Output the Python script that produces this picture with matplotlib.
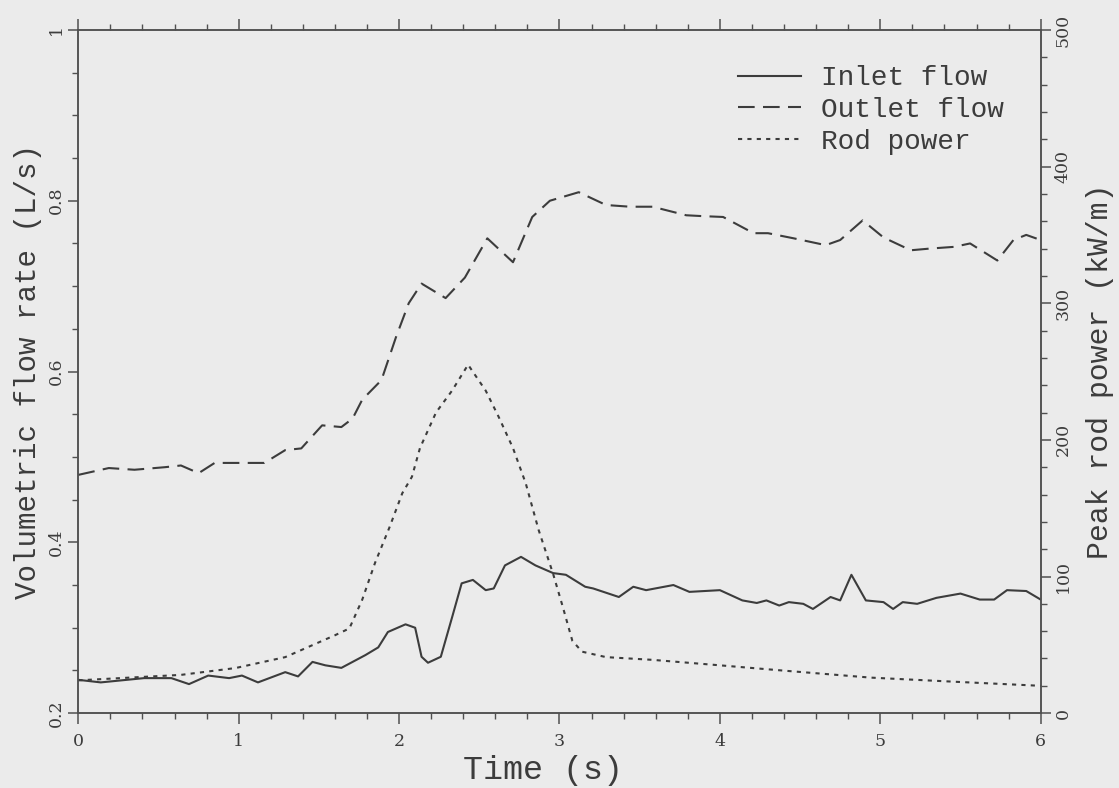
import numpy as np
import matplotlib
matplotlib.use('Agg')
import matplotlib.pyplot as plt
from matplotlib.ticker import MultipleLocator

# ── Data ──────────────────────────────────────────────────────
t_out = [0, 0.19, 0.35, 0.54, 0.64, 0.75, 0.85, 0.98, 1.16, 1.29, 1.39, 1.52,
         1.64, 1.71, 1.77, 1.89, 1.98, 2.06, 2.14, 2.29, 2.41, 2.55, 2.71, 2.83,
         2.94, 3.12, 3.29, 3.44, 3.58, 3.79, 3.89, 4.02, 4.21, 4.30, 4.46, 4.66,
         4.75, 4.89, 5.02, 5.19, 5.31, 5.46, 5.56, 5.73, 5.83, 5.91, 6.0]
q_out = [0.479, 0.487, 0.485, 0.488, 0.490, 0.481, 0.493, 0.493, 0.493, 0.508,
         0.510, 0.537, 0.535, 0.545, 0.567, 0.590, 0.640, 0.680, 0.703, 0.686,
         0.710, 0.756, 0.728, 0.781, 0.800, 0.810, 0.795, 0.793, 0.793, 0.783,
         0.782, 0.781, 0.762, 0.762, 0.756, 0.748, 0.754, 0.777, 0.757, 0.742,
         0.744, 0.746, 0.750, 0.730, 0.754, 0.760, 0.754]

t_in = [0, 0.14, 0.41, 0.58, 0.69, 0.81, 0.94, 1.02, 1.12, 1.29, 1.37, 1.46,
        1.54, 1.64, 1.71, 1.79, 1.87, 1.93, 2.04, 2.10, 2.14, 2.18, 2.26, 2.33,
        2.39, 2.46, 2.54, 2.59, 2.66, 2.76, 2.85, 2.96, 3.04, 3.16, 3.21, 3.37,
        3.46, 3.54, 3.71, 3.81, 4.0, 4.14, 4.23, 4.29, 4.37, 4.43, 4.52, 4.58,
        4.69, 4.75, 4.82, 4.91, 5.02, 5.08, 5.14, 5.23, 5.35, 5.5, 5.62, 5.71,
        5.79, 5.91, 6.0]
q_in = [0.239, 0.236, 0.241, 0.241, 0.234, 0.244, 0.241, 0.244, 0.236, 0.248,
        0.243, 0.260, 0.256, 0.253, 0.260, 0.268, 0.277, 0.295, 0.304, 0.300,
        0.266, 0.259, 0.266, 0.312, 0.352, 0.356, 0.344, 0.346, 0.373, 0.383,
        0.373, 0.364, 0.362, 0.348, 0.346, 0.336, 0.348, 0.344, 0.350, 0.342,
        0.344, 0.332, 0.329, 0.332, 0.326, 0.330, 0.328, 0.322, 0.336, 0.332,
        0.362, 0.332, 0.330, 0.322, 0.330, 0.328, 0.335, 0.340, 0.333, 0.333,
        0.344, 0.343, 0.333]

t_rod = [0, 0.64, 0.98, 1.29, 1.6, 1.69, 1.77, 1.85, 1.94, 2.02, 2.08, 2.13,
         2.23, 2.33, 2.43, 2.54, 2.62, 2.71, 2.79, 2.87, 2.96, 3.02, 3.08, 3.14,
         3.29, 3.58, 4.0, 4.41, 4.94, 5.46, 6.0]
p_rod = [24, 28, 33, 41, 57, 62, 83, 110, 136, 161, 173, 194, 220, 236, 255,
         236, 217, 194, 168, 134, 102, 78, 53, 45, 41, 39, 35, 31, 26, 23, 20]

# ── Style ─────────────────────────────────────────────────────
BG = '#ebebeb'
INK = '#3c3c3c'
MONO = 'Liberation Mono'
SERIF = 'DejaVu Serif'

fig = plt.figure(figsize=(11.19, 7.88), dpi=100, facecolor=BG)
ax = fig.add_axes([0.070, 0.095, 0.860, 0.867])
ax.set_facecolor(BG)
ax2 = ax.twinx()

l_in, = ax.plot(t_in, q_in, color=INK, lw=1.5, label='Inlet flow')
l_out, = ax.plot(t_out, q_out, color=INK, lw=1.5, dashes=(8, 4),
                 label='Outlet flow')
l_rod, = ax2.plot(t_rod, p_rod, color=INK, lw=1.5, dashes=(2, 2.5),
                  label='Rod power')

ax.set_xlim(0, 6)
ax.set_ylim(0.2, 1.0)
ax2.set_ylim(0, 500)

ax.xaxis.set_major_locator(MultipleLocator(1))
ax.xaxis.set_minor_locator(MultipleLocator(0.2))
ax.yaxis.set_major_locator(MultipleLocator(0.2))
ax.yaxis.set_minor_locator(MultipleLocator(0.05))
ax2.yaxis.set_major_locator(MultipleLocator(100))
ax2.yaxis.set_minor_locator(MultipleLocator(20))

ax.set_yticks([0.2, 0.4, 0.6, 0.8, 1.0])
ax.set_yticklabels(['0.2', '0.4', '0.6', '0.8', '1'])

for a in (ax, ax2):
    for s in a.spines.values():
        s.set_color('#505050')
        s.set_linewidth(1.1)

ax.tick_params(axis='x', which='both', direction='out', top=True,
               color='#505050', labelsize=12.5, labelcolor=INK, pad=6)
ax.tick_params(axis='x', which='major', length=8, width=1.1)
ax.tick_params(axis='x', which='minor', length=4, width=1.0)
ax.tick_params(axis='y', which='both', direction='out', right=False,
               color='#505050', labelsize=12.5, labelcolor=INK,
               labelrotation=90, pad=3)
ax.tick_params(axis='y', which='major', length=7, width=1.1)
ax.tick_params(axis='y', which='minor', length=4, width=1.0)
ax2.tick_params(axis='y', which='both', direction='out', color='#505050',
                labelsize=12.5, labelcolor=INK, labelrotation=90, pad=3)
ax2.tick_params(axis='y', which='major', length=7, width=1.1)
ax2.tick_params(axis='y', which='minor', length=4, width=1.0)

for lab in ax.get_xticklabels() + ax.get_yticklabels() + ax2.get_yticklabels():
    lab.set_family(SERIF)
for lab in ax.get_yticklabels() + ax2.get_yticklabels():
    lab.set_verticalalignment('center')

fig.text(0.485, 0.002, 'Time (s)', family=MONO, fontsize=24, color=INK,
         ha='center', va='bottom')
fig.text(0.025, 0.529, 'Volumetric flow rate (L/s)', family=MONO, fontsize=21,
         color=INK, rotation=90, ha='center', va='center')
fig.text(0.983, 0.529, 'Peak rod power (kW/m)', family=MONO, fontsize=21.5,
         color=INK, rotation=90, ha='center', va='center')

leg = ax.legend(handles=[l_in, l_out, l_rod], loc='upper left',
                bbox_to_anchor=(0.685, 0.948), frameon=False,
                prop={'family': MONO, 'size': 20}, handlelength=2.3,
                handletextpad=0.7, labelspacing=0.2, borderpad=0,
                borderaxespad=0)
for txt in leg.get_texts():
    txt.set_color(INK)

fig.savefig('out.png', dpi=100, facecolor=BG)
